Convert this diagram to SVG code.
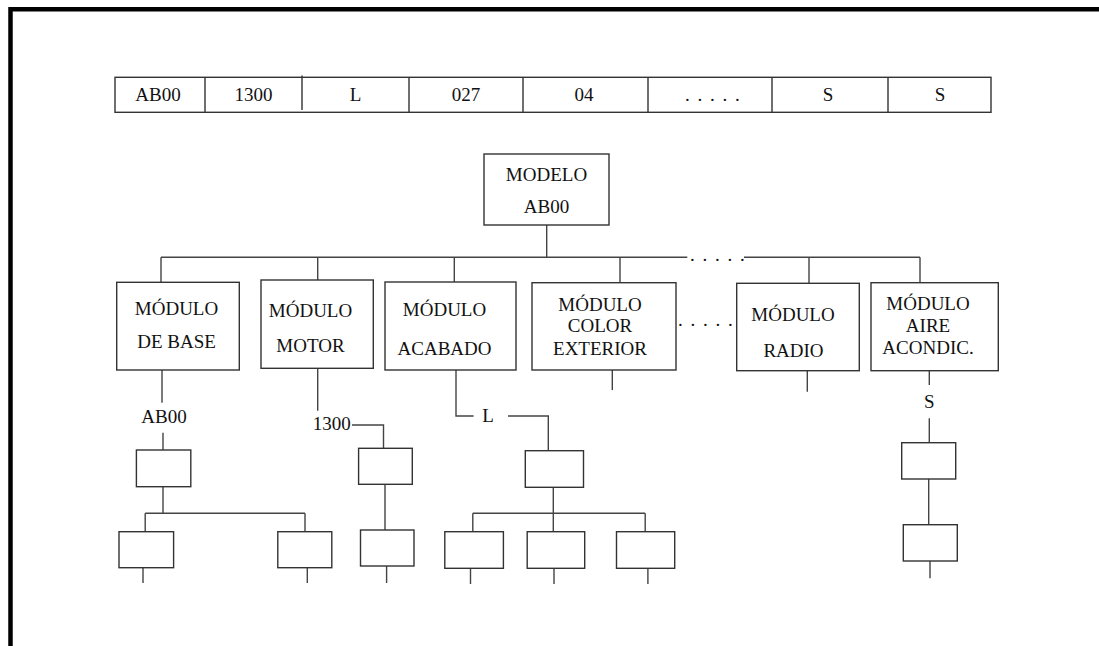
<svg xmlns="http://www.w3.org/2000/svg" width="1099" height="646" viewBox="0 0 1099 646" font-family="'Liberation Serif', 'Times New Roman', serif">
<style>
.t{font-family:'Liberation Serif','Times New Roman',serif;font-size:19px;fill:#111;text-anchor:middle}
.b{fill:#fff;stroke:#333;stroke-width:1.4}
.sb{fill:none;stroke:#333;stroke-width:1.4}
.c{fill:none;stroke:#444;stroke-width:1.4}
.d{letter-spacing:1.5px}
</style>
<rect width="1099" height="646" fill="#fff"/>
<path d="M10.5,646 V9.3 H1099" fill="none" stroke="#000" stroke-width="4.5"/>
<g id="table">
<rect class="b" x="115" y="77.3" width="876" height="35"/>
<path class="sb" d="M205,77.3V112.3 M302,75.5V110 M409,77.3V112.3 M523,77.3V112.3 M648,77.3V112.3 M772,77.3V112.3 M888,77.3V112.3"/>
<text class="t" x="158" y="101">AB00</text>
<text class="t" x="253.5" y="101">1300</text>
<text class="t" x="355.5" y="101">L</text>
<text class="t" x="466" y="101">027</text>
<text class="t" x="584" y="101">04</text>
<text class="t d" x="713" y="101">. . . . .</text>
<text class="t" x="828" y="101">S</text>
<text class="t" x="940" y="101">S</text>
</g>
<g id="connectors">
<path class="c" d="M546.7,225V257.3 M161,257.3H687.3 M744,257.3H920 M161,257.3V282.3 M317.7,257.3V280 M454.3,257.3V282 M620,257.3V282.7 M809,257.3V283.3 M920,257.3V282.7"/>
<path class="c" d="M162,370V402.7 M163,432.7V450 M163,486.7V513.3 M145.2,513.3H305 M145.2,513.3V531.7 M305,513.3V531.7 M143,567.7V583 M307.3,567.7V583"/>
<path class="c" d="M317.7,368.3V410.7 M352,425H383.5V448.3 M385,484.3V530 M386.6,566V583"/>
<path class="c" d="M456,370V416H473.6 M508,416H548.3V450.7 M553.3,487.3V513.3 M472.8,513.3H645.2 M472.8,513.3V531.7 M553.3,513.3V531.7 M645.2,513.3V531.7 M470.5,568.3V584 M554,568.3V584 M647.9,568.3V584"/>
<path class="c" d="M612.3,370V390 M807.3,370.7V391.7"/>
<path class="c" d="M929.3,370.7V385 M929.3,418.3V442.7 M928.7,479V524.7 M930,561V578.3"/>
<text class="t d" x="718" y="261">. . . . .</text>
<text class="t d" x="706" y="326">. . . . .</text>
<text class="t" x="164" y="423">AB00</text>
<text class="t" x="331.8" y="430">1300</text>
<text class="t" x="488" y="422">L</text>
<text class="t" x="929.3" y="408">S</text>
</g>
<g id="modelo">
<rect class="b" x="484" y="154" width="125" height="71"/>
<text class="t" x="546.5" y="180.7">MODELO</text>
<text class="t" x="546.5" y="212.7">AB00</text>
</g>
<g id="mod-base">
<rect class="b" x="116.7" y="282.3" width="122.6" height="87.7"/>
<text class="t" x="176.5" y="315">MÓDULO</text>
<text class="t" x="176.5" y="348.3">DE BASE</text>
</g>
<g id="mod-motor">
<rect class="b" x="261" y="280" width="112.3" height="88.3"/>
<text class="t" x="310.5" y="316.7">MÓDULO</text>
<text class="t" x="310.5" y="351.7">MOTOR</text>
</g>
<g id="mod-acabado">
<rect class="b" x="385" y="282" width="131" height="88"/>
<text class="t" x="444.5" y="316">MÓDULO</text>
<text class="t" x="444.5" y="355">ACABADO</text>
</g>
<g id="mod-color">
<rect class="b" x="532" y="282.7" width="144" height="87.3"/>
<text class="t" x="600" y="310.7">MÓDULO</text>
<text class="t" x="600" y="332">COLOR</text>
<text class="t" x="600" y="355">EXTERIOR</text>
</g>
<g id="mod-radio">
<rect class="b" x="736.7" y="283.3" width="122.6" height="87.4"/>
<text class="t" x="793" y="321">MÓDULO</text>
<text class="t" x="793.5" y="356.7">RADIO</text>
</g>
<g id="mod-aire">
<rect class="b" x="871" y="282.7" width="127.3" height="88"/>
<text class="t" x="928" y="310">MÓDULO</text>
<text class="t" x="928" y="332">AIRE</text>
<text class="t" x="928" y="354">ACONDIC.</text>
</g>
<g id="base-1"><rect class="b" x="136.4" y="450" width="54.4" height="36.7"/></g>
<g id="base-2a"><rect class="b" x="119" y="531.7" width="54.6" height="36"/></g>
<g id="base-2b"><rect class="b" x="277.8" y="531.7" width="54" height="36"/></g>
<g id="motor-1"><rect class="b" x="358.6" y="448.3" width="53.7" height="36"/></g>
<g id="motor-2"><rect class="b" x="360.5" y="530" width="53.5" height="36"/></g>
<g id="acab-1"><rect class="b" x="525.3" y="450.7" width="58.2" height="36.6"/></g>
<g id="acab-2a"><rect class="b" x="444.8" y="531.7" width="58.6" height="36.6"/></g>
<g id="acab-2b"><rect class="b" x="527.2" y="531.7" width="57.5" height="36.6"/></g>
<g id="acab-2c"><rect class="b" x="616.5" y="531.7" width="58.2" height="36.6"/></g>
<g id="aire-1"><rect class="b" x="901.7" y="442.7" width="54" height="36.3"/></g>
<g id="aire-2"><rect class="b" x="903.3" y="524.7" width="54" height="36.3"/></g>
</svg>
